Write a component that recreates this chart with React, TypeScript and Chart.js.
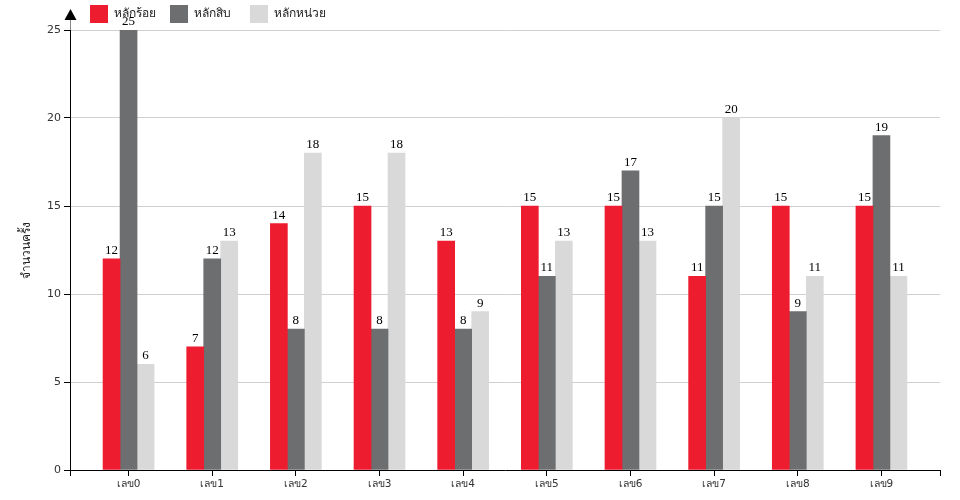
import React, { useEffect, useRef } from "react";
import { Chart, registerables } from "chart.js";

Chart.register(...registerables);

const categories = ["เลข0", "เลข1", "เลข2", "เลข3", "เลข4", "เลข5", "เลข6", "เลข7", "เลข8", "เลข9"];
const seriesNames = ["หลักร้อย", "หลักสิบ", "หลักหน่วย"];
const hundreds = [12, 7, 14, 15, 13, 15, 15, 11, 15, 15];
const tens = [25, 12, 8, 8, 8, 11, 17, 15, 9, 19];
const units = [6, 13, 18, 18, 9, 13, 13, 20, 11, 11];
const colors = ["#ED1C2E", "#6D6E70", "#D9D9D9"];
const yTitle = "จำนวนครั้ง";

const SANS = "'DejaVu Sans', 'Noto Sans', sans-serif";
const SERIF = "'Liberation Serif', 'DejaVu Serif', serif";

export default function App() {
  const ref = useRef<HTMLCanvasElement | null>(null);
  useEffect(() => {
    document.body.style.margin = "0";
    const canvas = ref.current!;
    const series = [hundreds, tens, units];

    const decor = {
      id: "decor",
      afterDatasetsDraw(chart: any) {
        const ctx = chart.ctx;
        ctx.save();
        ctx.fillStyle = "#000";
        ctx.font = `13px ${SERIF}`;
        ctx.textAlign = "center";
        ctx.textBaseline = "alphabetic";
        chart.data.datasets.forEach((ds: any, di: number) => {
          const meta = chart.getDatasetMeta(di);
          meta.data.forEach((bar: any, i: number) => {
            ctx.fillText(String(series[di][i]), bar.x, bar.y - 5);
          });
        });
        ctx.restore();
      },
      afterDraw(chart: any) {
        const ctx = chart.ctx;
        const area = chart.chartArea;
        ctx.save();
        const x = Math.round(area.left) + 0.5;
        ctx.strokeStyle = "#888";
        ctx.lineWidth = 1;
        ctx.beginPath();
        ctx.moveTo(x, area.top);
        ctx.lineTo(x, area.top - 12);
        ctx.stroke();
        ctx.fillStyle = "#000";
        ctx.beginPath();
        ctx.moveTo(x, 9);
        ctx.lineTo(x - 6, 20);
        ctx.lineTo(x + 6, 20);
        ctx.closePath();
        ctx.fill();
        const items = [
          { x: 90, label: seriesNames[0], c: colors[0] },
          { x: 170, label: seriesNames[1], c: colors[1] },
          { x: 250, label: seriesNames[2], c: colors[2] },
        ];
        ctx.font = `12px ${SANS}`;
        ctx.textAlign = "left";
        ctx.textBaseline = "middle";
        items.forEach((it) => {
          ctx.fillStyle = it.c;
          ctx.fillRect(it.x, 5, 18, 18);
          ctx.fillStyle = "#222";
          ctx.fillText(it.label, it.x + 24, 14);
        });
        ctx.restore();
      },
    };

    const chart = new Chart(canvas, {
      type: "bar",
      data: {
        datasets: series.map((vals, si) => ({
          label: seriesNames[si],
          data: vals.map((v, i) => ({ x: i, y: v })),
          backgroundColor: colors[si],
          borderWidth: 0,
          barThickness: 17,
        })),
      },
      options: {
        responsive: false,
        animation: false,
        layout: { padding: { left: 0, right: 20, top: 30, bottom: 0 } },
        plugins: {
          legend: { display: false },
          tooltip: { enabled: false },
        },
        scales: {
          x: {
            type: "linear",
            offset: false,
            min: -0.7,
            max: 9.7,
            afterBuildTicks: (scale: any) => {
              const t = [-0.7, 0, 1, 2, 3, 4, 5, 6, 7, 8, 9, 9.7];
              scale.ticks = t.map((v) => ({ value: v }));
            },
            afterFit: (scale: any) => {
              scale.height = 30;
            },
            ticks: {
              autoSkip: false,
              maxRotation: 0,
              padding: 2,
              color: "#333",
              font: { family: SANS, size: 10.5 },
              callback: (v: any) => (Number.isInteger(v) && v >= 0 && v <= 9 ? categories[v] : ""),
            },
            grid: {
              display: true,
              offset: false,
              drawOnChartArea: false,
              drawTicks: true,
              tickLength: 6,
              tickColor: "#000",
            },
            border: { display: true, color: "#000", width: 1 },
          },
          y: {
            min: 0,
            max: 25,
            afterFit: (scale: any) => {
              scale.width = 70;
            },
            ticks: {
              stepSize: 5,
              padding: 3,
              color: "#333",
              font: { family: SANS, size: 11 },
            },
            grid: {
              color: "#D0D0D0",
              drawTicks: true,
              tickLength: 6,
              tickColor: "#000",
            },
            border: { display: true, color: "#000", width: 1 },
            title: {
              display: true,
              text: yTitle,
              color: "#222",
              font: { family: SANS, size: 12 },
              padding: { top: 20, bottom: 4 },
            },
          },
        },
      },
      plugins: [decor],
    } as any);
    return () => chart.destroy();
  }, []);
  return <canvas ref={ref} width={960} height={500} style={{ display: "block" }} />;
}
